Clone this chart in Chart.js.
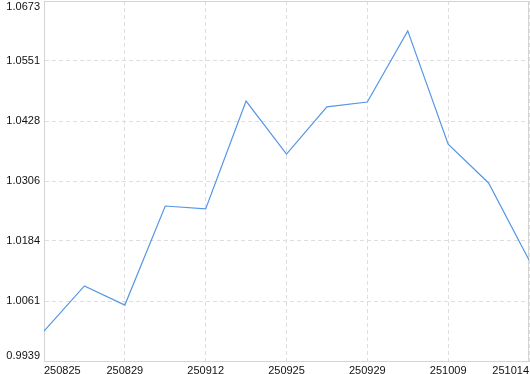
<!DOCTYPE html>
<html>
<head>
<meta charset="utf-8">
<script src="https://cdn.jsdelivr.net/npm/chart.js@4.4.0/dist/chart.umd.min.js"></script>
<style>
    body { margin: 0; background: #fff; }
    #wrap { width: 530px; height: 374px; }
</style>
</head>
<body>
<div id="wrap"><canvas id="js--chart" width="530" height="374"></canvas></div>
<script>
// data
const dates = ["250825", "250827", "250829", "250905", "250912", "250919", "250925",
    "250926", "250929", "250930", "251009", "251010", "251014"];
const values = [1.0000, 1.0092, 1.0053, 1.0255, 1.0249, 1.0469, 1.0361,
    1.0457, 1.0467, 1.0612, 1.0381, 1.0302, 1.0145];
const yTicks = [0.9939, 1.0061, 1.0184, 1.0306, 1.0428, 1.0551, 1.0673];

const gridColor = '#dedede';
const frameColor = '#d4d4d4';
const font = { family: "'Liberation Sans', Arial, sans-serif", size: 11 };

// solid frame round the plot, first/last y labels kept inside
const framePlugin = {
    id: 'frame',
    beforeDraw(chart) {
        const items = chart.scales.y.getLabelItems(chart.chartArea);
        if (items.length) {
            items[0].options.textBaseline = 'bottom';
            items[items.length - 1].options.textBaseline = 'top';
        }
    },
    beforeDatasetsDraw(chart) {
        const a = chart.chartArea;
        const ctx = chart.ctx;
        ctx.save();
        ctx.strokeStyle = frameColor;
        ctx.lineWidth = 1;
        ctx.strokeRect(a.left + 0.5, a.top + 0.5, a.right - a.left - 1, a.bottom - a.top);
        ctx.restore();
    }
};

const config = {
    type: 'line',
    data: {
        labels: dates,
        datasets: [{
            data: values,
            borderColor: '#5596e6',
            borderWidth: 1.2,
            pointRadius: 0,
            tension: 0,
            fill: false
        }]
    },
    options: {
        responsive: false,
        animation: false,
        layout: { padding: { top: 1, right: 1, bottom: 0, left: 0 } },
        plugins: { legend: { display: false }, tooltip: { enabled: false } },
        scales: {
            x: {
                offset: false,
                grid: { color: gridColor, drawTicks: false },
                border: { color: frameColor, dash: [4, 3] },
                ticks: {
                    autoSkip: false,
                    maxRotation: 0,
                    align: 'inner',
                    padding: 3,
                    color: '#111',
                    font: font,
                    // every other date gets a label and a grid line
                    callback: function (v, i) {
                        return i % 2 ? null : dates[i];
                    }
                },
                afterFit: function (s) {
                    s.height = 13;
                    s.paddingLeft = 0;
                    s.paddingRight = 0;
                }
            },
            y: {
                min: yTicks[0],
                max: yTicks[yTicks.length - 1],
                grid: { color: gridColor, drawTicks: false },
                border: { color: frameColor, dash: [4, 3] },
                ticks: {
                    padding: 4,
                    color: '#111',
                    font: font,
                    callback: (v) => v.toFixed(4)
                },
                afterBuildTicks: function (s) {
                    s.ticks = yTicks.map(v => ({ value: v }));
                },
                afterFit: function (s) {
                    s.width = 44;
                    s.paddingTop = 0;
                    s.paddingBottom = 0;
                }
            }
        }
    },
    plugins: [framePlugin]
};

const myChart = new Chart(document.getElementById('js--chart'), config);
</script>
</body>
</html>
